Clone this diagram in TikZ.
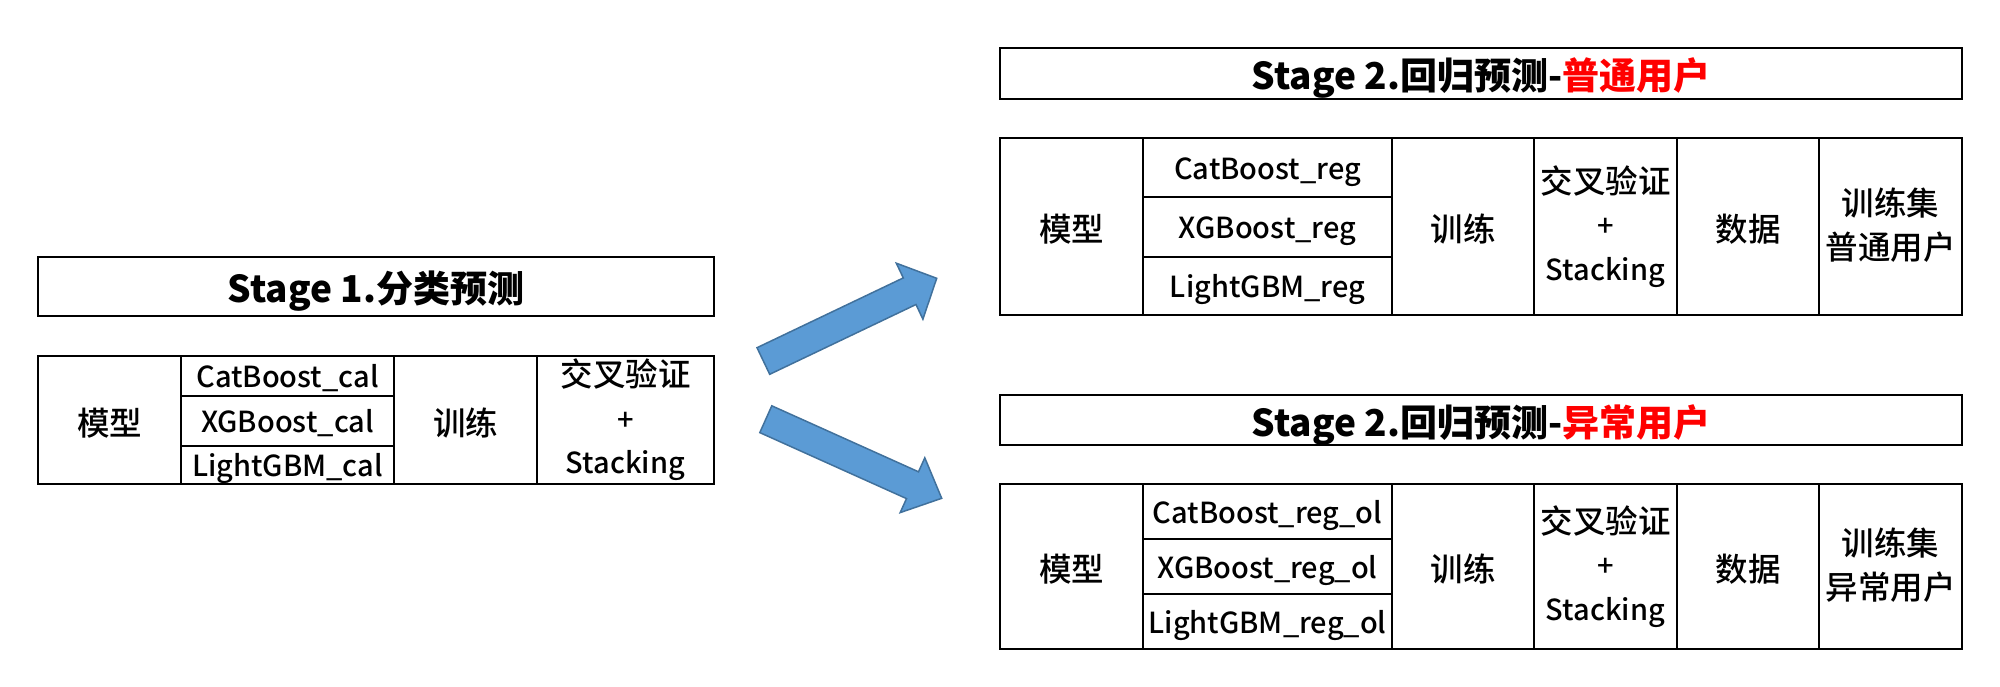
\documentclass[tikz,border=0pt]{standalone}
\usepackage{fontspec}
\setmainfont{Noto Sans CJK SC}
\newfontfamily\cellfont{Noto Sans CJK SC Medium}
\usetikzlibrary{positioning}
\definecolor{userred}{RGB}{255,0,0}
\definecolor{arrowfill}{HTML}{5B9BD5}
\definecolor{arrowline}{HTML}{41719C}
% struts so that the text sits in the cells as in the slide
\newcommand\latstrut{\rule[-7pt]{0pt}{37.5pt}}
\newcommand\cjkstrut{\rule[-6pt]{0pt}{42pt}}
\newcommand\titlestrut{\rule[-7pt]{0pt}{48pt}}
\newcommand\cjkbig{\fontsize{32.5}{43.5}\selectfont}
\tikzset{
x=1pt, y=-1pt, % one unit is one pixel of the reference, y runs downwards
node distance=0pt, % cells touch each other
cellbase/.style={draw, line width=2pt, inner sep=0pt, outer sep=0pt, align=center},
cell/.style={cellbase, font=\cellfont\fontsize{29}{43.5}\selectfont,
  execute at begin node=\latstrut, execute at end node=\latstrut}, % latin cells
cjkcell/.style={cellbase, font=\cellfont\cjkbig,
  execute at begin node=\cjkstrut, execute at end node=\cjkstrut}, % chinese cells
titlebox/.style={cellbase, font=\fontsize{37}{44}\selectfont\bfseries,
  execute at begin node=\titlestrut, execute at end node=\titlestrut}, % stage headings
blockarrow/.style={fill=arrowfill, draw=arrowline, line width=1.5pt, line join=miter},
}

\begin{document}
\begin{tikzpicture}
\useasboundingbox (0,0) rectangle (2000,687);

% Stage 1
\node[titlebox, minimum width=676pt, minimum height=59pt, anchor=north west] (s1title) at (38,257) {Stage 1.分类预测};
\node[cjkcell, minimum width=143pt, minimum height=128pt, anchor=north west] (s1model) at (38,356) {模型};
\node[cell, minimum width=213pt, minimum height=40pt, anchor=north west] (s1cat) at (s1model.north east) {CatBoost\_cal};
\node[cell, minimum width=213pt, minimum height=50pt, below=of s1cat] (s1xgb) {XGBoost\_cal};
\node[cell, minimum width=213pt, minimum height=38pt, below=of s1xgb] (s1lgb) {LightGBM\_cal};
\node[cjkcell, minimum width=143pt, minimum height=128pt, anchor=north west] (s1train) at (s1cat.north east) {训练};
\node[cell, minimum width=177pt, minimum height=128pt, right=of s1train] (s1cv) {{\cjkbig 交叉验证}\\+\\Stacking};

% Stage 2, normal users
\node[titlebox, minimum width=962pt, minimum height=51pt, anchor=north west] (s2atitle) at (1000,48) {Stage 2.回归预测-{\color{userred}普通用户}};
\node[cjkcell, minimum width=143pt, minimum height=177pt, anchor=north west] (s2amodel) at (1000,138) {模型};
\node[cell, minimum width=249pt, minimum height=59pt, anchor=north west] (s2acat) at (s2amodel.north east) {CatBoost\_reg};
\node[cell, minimum width=249pt, minimum height=60pt, below=of s2acat] (s2axgb) {XGBoost\_reg};
\node[cell, minimum width=249pt, minimum height=58pt, below=of s2axgb] (s2algb) {LightGBM\_reg};
\node[cjkcell, minimum width=142pt, minimum height=177pt, anchor=north west] (s2atrain) at (s2acat.north east) {训练};
\node[cell, minimum width=143pt, minimum height=177pt, right=of s2atrain] (s2acv) {{\cjkbig 交叉验证}\\+\\Stacking};
\node[cjkcell, minimum width=142pt, minimum height=177pt, right=of s2acv] (s2adata) {数据};
\node[cjkcell, minimum width=143pt, minimum height=177pt, right=of s2adata] (s2aset) {训练集\\普通用户};

% Stage 2, abnormal users
\node[titlebox, minimum width=962pt, minimum height=50pt, anchor=north west] (s2btitle) at (1000,395) {Stage 2.回归预测-{\color{userred}异常用户}};
\node[cjkcell, minimum width=143pt, minimum height=165pt, anchor=north west] (s2bmodel) at (1000,484) {模型};
\node[cell, minimum width=249pt, minimum height=55pt, anchor=north west] (s2bcat) at (s2bmodel.north east) {CatBoost\_reg\_ol};
\node[cell, minimum width=249pt, minimum height=55pt, below=of s2bcat] (s2bxgb) {XGBoost\_reg\_ol};
\node[cell, minimum width=249pt, minimum height=55pt, below=of s2bxgb] (s2blgb) {LightGBM\_reg\_ol};
\node[cjkcell, minimum width=142pt, minimum height=165pt, anchor=north west] (s2btrain) at (s2bcat.north east) {训练};
\node[cell, minimum width=143pt, minimum height=165pt, right=of s2btrain] (s2bcv) {{\cjkbig 交叉验证}\\+\\Stacking};
\node[cjkcell, minimum width=142pt, minimum height=165pt, right=of s2bcv] (s2bdata) {数据};
\node[cjkcell, minimum width=143pt, minimum height=165pt, right=of s2bdata] (s2bset) {训练集\\异常用户};

% block arrows
\draw[blockarrow] (757,347.7) -- (903.3,277.9) -- (896.3,263.2) -- (936.7,278.3)
  -- (922.9,319.2) -- (916,304.5) -- (769.7,374.3) -- cycle;
\draw[blockarrow] (771.8,405.8) -- (918.5,471.8) -- (924.8,457.8) -- (941.7,498.3)
  -- (900.2,512.6) -- (906.5,498.6) -- (759.8,432.6) -- cycle;
\end{tikzpicture}
\end{document}
